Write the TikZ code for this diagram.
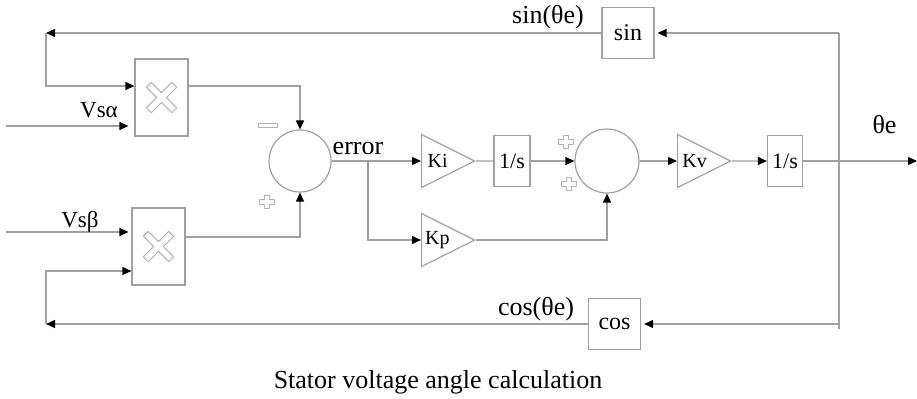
\documentclass[tikz,border=0pt]{standalone}
\usepackage{fontspec}
\setmainfont{Liberation Serif}
\usetikzlibrary{arrows.meta, shapes.geometric, positioning, calc}
\definecolor{wiregray}{RGB}{160,160,160}
\definecolor{markgray}{RGB}{178,178,178}
\tikzset{
  mulbox/.style={
    rectangle, draw=wiregray, line width=0.6pt,
    minimum width=26.5pt, minimum height=38.5pt
  },
  sumcirc/.style={
    circle, draw=wiregray, line width=0.6pt,
    inner sep=0pt, minimum size=31pt
  },
  gaintri/.style={
    isosceles triangle, isosceles triangle stretches,
    draw=wiregray, line width=0.6pt, inner sep=0pt,
    minimum width=26.5pt, minimum height=26.5pt,
    font=\fontsize{10}{12}\selectfont
  },
  fnbox/.style={
    rectangle, draw=wiregray, line width=0.6pt, inner sep=0pt,
    minimum width=26pt, minimum height=25.5pt,
    font=\fontsize{12}{14}\selectfont
  },
  intbox/.style={fnbox, minimum width=18pt, font=\fontsize{11}{13}\selectfont},
  wire/.style={draw=wiregray, line width=0.6pt},
  wirearrow/.style={wire, -{Triangle[color=black, length=4.5pt, width=4pt]}},
  sigmark/.style={draw=markgray, line width=0.5pt, line join=round},
  siglabel/.style={font=\fontsize{13}{15}\selectfont, inner sep=0pt, anchor=base},
}
\newcommand{\plusmark}[1]{%
  \draw[sigmark, shift={(#1)}] (-2.5,-6.5) -- (2.5,-6.5) -- (2.5,-2.5)
    -- (7.5,-2.5) -- (7.5,2.5) -- (2.5,2.5) -- (2.5,6.5) -- (-2.5,6.5)
    -- (-2.5,2.5) -- (-7.5,2.5) -- (-7.5,-2.5) -- (-2.5,-2.5) -- cycle;}
\newcommand{\mulmark}[1]{%
  \draw[sigmark, shift={(#1)}, rotate=45] (-3.5,-18) -- (3.5,-18) -- (3.5,-3.5)
    -- (18,-3.5) -- (18,3.5) -- (3.5,3.5) -- (3.5,18) -- (-3.5,18)
    -- (-3.5,3.5) -- (-18,3.5) -- (-18,-3.5) -- (-3.5,-3.5) -- cycle;}

\begin{document}
\begin{tikzpicture}[x=0.5pt, y=-0.5pt]
  \useasboundingbox (0,0) rectangle (917,398);
  \node[mulbox] (mulA) at (161.5,97.5) {};
  \node[mulbox] (mulB) at (158.5,246.5) {};
  \node[sumcirc] (sumA) at (300,161) {};
  \node[gaintri, anchor=west] (Ki) at (421,161) {Ki};
  \node[gaintri, anchor=west] (Kp) at (421,240) {Kp};
  \node[intbox] (intA) at (512,161) {1/s};
  \node[sumcirc, minimum size=32pt] (sumB) at (607,161) {};
  \node[gaintri, anchor=west] (Kv) at (677,161) {Kv};
  \node[intbox, minimum width=17.5pt] (intB) at (785,161) {1/s};
  \node[fnbox] (sinb) at (628,33) {sin};
  \node[fnbox] (cosb) at (614.5,324) {cos};

  \coordinate (cornA) at (46,33);
  \coordinate (cornB) at (46,324);
  \coordinate (vsa) at (6,126);
  \coordinate (vsb) at (6,232);
  \coordinate (tapT) at (839,33);
  \coordinate (tapB) at (839,329);
  \coordinate (thout) at (917,161);
  \coordinate (fork) at (368,161);

  \mulmark{mulA.center}
  \mulmark{mulB.center}
  \draw[sigmark] (258,123) rectangle (277,127);
  \plusmark{266.5,202}
  \plusmark{565.5,141.5}
  \plusmark{568.5,183.5}

  \draw[wirearrow] (sinb.west) -- (cornA);
  \draw[wirearrow] (cornA) |- ($(mulA.west)+(0,-11.5)$);
  \draw[wirearrow] (vsa) -- ([xshift=-3pt]vsa -| mulA.west);
  \draw[wirearrow] ($(mulA.east)+(0,-11.5)$) -| (sumA.north);
  \draw[wirearrow] (vsb) -- ([xshift=-1.5pt]vsb -| mulB.west);
  \draw[wirearrow] (cornB) |- ($(mulB.west)+(0,24.5)$);
  \draw[wirearrow] ($(mulB.east)+(0,-9.5)$) -| (sumA.south);
  \draw[wirearrow] (sumA.east) -- (Ki.west);
  \draw[wirearrow] (fork) |- (Kp.west);
  \draw[wire] (Ki.apex) -- (intA.west);
  \draw[wirearrow] (intA.east) -- (sumB.west);
  \draw[wirearrow] (Kp.apex) -| (sumB.south);
  \draw[wirearrow] (sumB.east) -- (Kv.west);
  \draw[wirearrow] (Kv.apex) -- (intB.west);
  \draw[wirearrow] (intB.east) -- (thout);
  \draw[wire] (tapT) -- (tapB);
  \draw[wirearrow, shorten >=1.5pt] (tapT) -- (sinb.east);
  \draw[wirearrow, shorten >=1.5pt] (tapT |- cosb) -- (cosb.east);
  \draw[wirearrow] (cosb.west) -- (cornB);

  \node[siglabel, font=\fontsize{11.5}{13}\selectfont] (lVsa) at (99,117) {Vsα};
  \node[siglabel, font=\fontsize{11.5}{13}\selectfont] (lVsb) at (80,227) {Vsβ};
  \node[siglabel] (lerr) at (358,154) {error};
  \node[siglabel] (lsin) at (548,23) {sin(θe)};
  \node[siglabel] (lcos) at (536,315) {cos(θe)};
  \node[siglabel] (lth) at (884.5,133) {θe};
  \node[siglabel] (capt) at (438,388) {Stator voltage angle calculation};
\end{tikzpicture}
\end{document}
